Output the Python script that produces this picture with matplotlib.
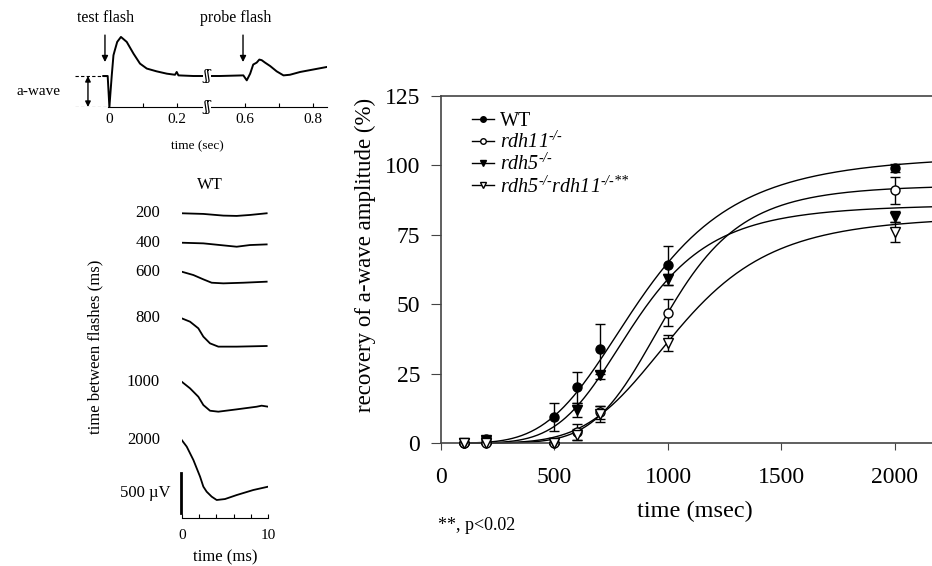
import numpy as np
import matplotlib.pyplot as plt
from matplotlib.lines import Line2D

plt.rcParams['font.family'] = 'Liberation Serif'
plt.rcParams['mathtext.fontset'] = 'custom'
plt.rcParams['mathtext.rm'] = 'Liberation Serif:italic'
plt.rcParams['mathtext.it'] = 'Liberation Serif:italic'

# recovery of a-wave amplitude (%) vs time between flashes (ms)
t_ms = [100, 200, 500, 600, 700, 1000, 2000]
wt = [0, 1.5, 9.5, 20, 34, 64, 99]
wt_err = [0.5, 1, 5, 5.5, 9, 7, 1.5]
rdh11 = [0, 0, 0, 4, 11, 47, 91]
rdh11_err = [0.5, 0.5, 0.5, 3, 2.5, 5, 5]
rdh5 = [0, 1, 0, 12, 24.5, 59, 81.5]
rdh5_err = [0.5, 1, 0.5, 2.5, 1.5, 2, 2]
dko = [0, 0, 0, 3, 10.5, 36, 76]
dko_err = [0.5, 0.5, 0.5, 2, 3, 3, 3.5]

# fitted curves (Hill): max, half time, slope
fit_max = [104, 93, 86, 82]
fit_half = [880, 997, 851, 1046]
fit_n = [4.0, 6.0, 4.86, 4.91]

# example ERG trace, test flash at 0 s, probe at 0.6 s (relative units)
trace_t = [-0.017, -0.004, 0.001, 0.008, 0.013, 0.017, 0.024, 0.035, 0.052, 0.072,
           0.091, 0.111, 0.140, 0.170, 0.194, 0.199, 0.208, 0.296, 0.354, 0.404,
           0.452, 0.590, 0.605, 0.615, 0.624, 0.634, 0.642, 0.649, 0.659, 0.674,
           0.693, 0.713, 0.732, 0.762, 0.801, 0.840]
trace_v = [0, 0, -1.0, 0.02, 0.67, 0.83, 1.10, 1.26, 1.10, 0.72,
           0.40, 0.24, 0.15, 0.075, 0.04, 0.13, 0.02, 0, 0, 0,
           0, 0.02, -0.14, 0.075, 0.37, 0.43, 0.53, 0.51, 0.43, 0.32,
           0.15, 0.02, 0.04, 0.13, 0.21, 0.29]

# WT a-wave responses to probe flash (ms, uV)
delays = ['200', '400', '600', '800', '1000', '2000']
wave_t = [
    [0, 2.5, 4.81, 6.35, 7.88, 9.81],
    [0, 2.5, 4.42, 6.35, 7.88, 9.81],
    [0, 1.35, 2.5, 3.46, 4.81, 7.12, 9.81],
    [0, 0.96, 1.92, 2.5, 3.27, 4.23, 6.35, 9.81],
    [0, 0.96, 1.92, 2.5, 3.27, 4.23, 6.35, 8.65, 9.23, 10],
    [0, 0.58, 1.35, 2.12, 2.5, 2.88, 3.46, 4.04, 5, 6.35, 8.27, 10],
]
wave_v = [
    [0, -8, -29, -33, -21, 0],
    [0, -8, -29, -50, -29, -21],
    [0, -42, -96, -138, -146, -138, -125],
    [0, -42, -125, -229, -313, -354, -354, -346],
    [0, -83, -188, -292, -363, -375, -346, -313, -300, -313],
    [0, -83, -250, -458, -583, -646, -708, -750, -738, -688, -625, -583],
]
wave_offset = [3809, 3441, 3079, 2496, 1704, 975]

fig = plt.figure(figsize=(9.32, 5.66), dpi=100)

# ---------------- top-left trace ----------------
def fwd(t):
    t = np.asarray(t, float)
    return np.where(t <= 0.2, t, np.where(t < 0.6, 0.2 + (t - 0.2) * 0.5, t - 0.2))

def inv(d):
    d = np.asarray(d, float)
    return np.where(d <= 0.2, d, np.where(d < 0.4, 0.2 + (d - 0.2) * 2, d + 0.2))

ax0 = fig.add_axes([73/932, 1-107/566, 254/932, 74.4/566])
ax0.set_xscale('function', functions=(fwd, inv))
ax0.plot(trace_t, trace_v, color='k', lw=1.4)
ax0.set_xlim(-0.106, 0.841)
ax0.set_ylim(-1, 1.4)
for s in ['left', 'right', 'top']:
    ax0.spines[s].set_visible(False)
ax0.spines['bottom'].set_bounds(-0.004, 0.841)
ax0.set_yticks([])
ax0.set_xticks([0, 0.1, 0.2, 0.6, 0.7, 0.8])
ax0.set_xticklabels(['0', '', '0.2', '0.6', '', '0.8'], fontsize=11)
ax0.tick_params(axis='x', direction='in', length=3, pad=4)
ax0.set_xlabel('time (sec)', fontsize=9.5, va='center')
ax0.xaxis.set_label_coords(0.49, -0.53)
ax0.plot([-0.1, -0.005], [0, 0], 'k--', lw=0.8, dashes=(3, 2))
ax0.plot([-0.1, 0], [-1, -1], 'k--', lw=0.8, dashes=(3, 2))
ax0.annotate('', xy=(-0.062, -1), xytext=(-0.062, 0),
             arrowprops=dict(arrowstyle='<|-|>', color='k', lw=1, mutation_scale=8,
                             shrinkA=0, shrinkB=0))
ax0.text(-0.206, -0.5, 'a-wave', fontsize=11, ha='center', va='center', clip_on=False)
ax0.annotate('', xy=(-0.012, 0.45), xytext=(-0.012, 1.32),
             arrowprops=dict(arrowstyle='-|>', color='k', lw=1, mutation_scale=9,
                             shrinkA=0, shrinkB=0), annotation_clip=False)
ax0.annotate('', xy=(0.588, 0.45), xytext=(0.588, 1.32),
             arrowprops=dict(arrowstyle='-|>', color='k', lw=1, mutation_scale=9,
                             shrinkA=0, shrinkB=0), annotation_clip=False)
ax0.text(-0.009, 1.87, 'test flash', fontsize=11.5, ha='center', va='center', clip_on=False)
ax0.text(0.542, 1.87, 'probe flash', fontsize=11.5, ha='center', va='center', clip_on=False)
for yb in [0, -1]:
    ax0.text(0.376, yb, 'ʃʃ', family=['DejaVu Serif'], fontsize=10, ha='center', va='center',
             bbox=dict(fc='white', ec='none', pad=0.3))

# ---------------- lower-left traces ----------------
ax1 = fig.add_axes([181.7/932, 48/566, 86.6/932, 352/566])
for xs, ys, off, lab in zip(wave_t, wave_v, wave_offset, delays):
    ax1.plot(xs, np.array(ys) + off, color='k', lw=1.3)
    ax1.text(-2.5, off, lab, fontsize=12, ha='right', va='center', clip_on=False)
ax1.set_xlim(0, 10)
ax1.set_ylim(0, 4400)
for s in ['left', 'right', 'top']:
    ax1.spines[s].set_visible(False)
ax1.set_yticks([])
ax1.set_xticks([0, 2, 4, 6, 8, 10])
ax1.set_xticklabels(['0', '', '', '', '', '10'], fontsize=11)
ax1.tick_params(axis='x', direction='in', length=3, pad=8)
ax1.plot([-0.05, -0.05], [62, 562], color='k', lw=2, clip_on=False)
ax1.text(-1.35, 312, '500 µV', fontsize=12, ha='right', va='center', clip_on=False)
ax1.text(3.3, 4162, 'WT', fontsize=12, ha='center', va='center', clip_on=False)
fig.text(225/932, 1-557/566, 'time (ms)', fontsize=12, ha='center', va='center')
fig.text(95/932, 1-347/566, 'time between flashes (ms)', fontsize=12, rotation=90,
         ha='center', va='center')

# ---------------- main recovery plot ----------------
ax = fig.add_axes([441/932, 123/566, 491/932, 347/566])
hy = '\u2010/\u2010'
series = [
    ('WT', wt, wt_err, 'o', 'k'),
    ('rdh11$^{' + hy + '}$', rdh11, rdh11_err, 'o', 'white'),
    ('rdh5$^{' + hy + '}$', rdh5, rdh5_err, 'v', 'k'),
    ('rdh5$^{' + hy + '}$rdh11$^{' + hy + '{*}{*}}$', dko, dko_err, 'v', 'white'),
]
tt = np.linspace(100, 2165, 300)
handles = []
for i, (lab, vals, err, mk, fc) in enumerate(series):
    fit = fit_max[i] * tt**fit_n[i] / (tt**fit_n[i] + fit_half[i]**fit_n[i])
    ax.plot(tt, fit, color='k', lw=1, clip_on=False)
    ax.errorbar(t_ms, vals, yerr=err, fmt=mk, mfc=fc, mec='k', mew=1, ms=6.5,
                ecolor='k', elinewidth=1, capsize=3.5, capthick=1, zorder=3, clip_on=False)
    handles.append(Line2D([], [], color='k', lw=1, marker=mk, mfc=fc, mec='k', ms=4,
                          label=lab))
ax.set_xlim(0, 2163)
ax.set_ylim(0, 125)
ax.set_xticks([0, 500, 1000, 1500, 2000])
ax.set_yticks([0, 25, 50, 75, 100, 125])
ax.tick_params(axis='x', direction='out', length=5, pad=12, labelsize=17, color='#444')
ax.tick_params(axis='y', direction='out', length=7, pad=8, labelsize=17, color='#444')
for s in ['left', 'bottom', 'top']:
    ax.spines[s].set_color('#444')
    ax.spines[s].set_linewidth(1.2)
ax.spines['right'].set_visible(False)
ax.set_xlabel('time (msec)', fontsize=17.5, va='center')
ax.xaxis.set_label_coords(0.517, -0.196)
ax.set_ylabel('recovery of a-wave amplitude (%)', fontsize=16.5, va='center', ha='center')
ax.yaxis.set_label_coords(-0.153, 0.542)
leg = ax.legend(handles=handles, loc='upper left', bbox_to_anchor=(0.063, 0.955),
                frameon=False, fontsize=14.5, handlelength=1.1, handletextpad=0.3,
                labelspacing=0.05, borderpad=0, borderaxespad=0)
for txt in leg.get_texts()[1:]:
    txt.set_fontstyle('italic')
fig.text(438/932, 1-525/566, '**, p<0.02', fontsize=13, ha='left', va='center')

fig.savefig('out.png', dpi=100)
